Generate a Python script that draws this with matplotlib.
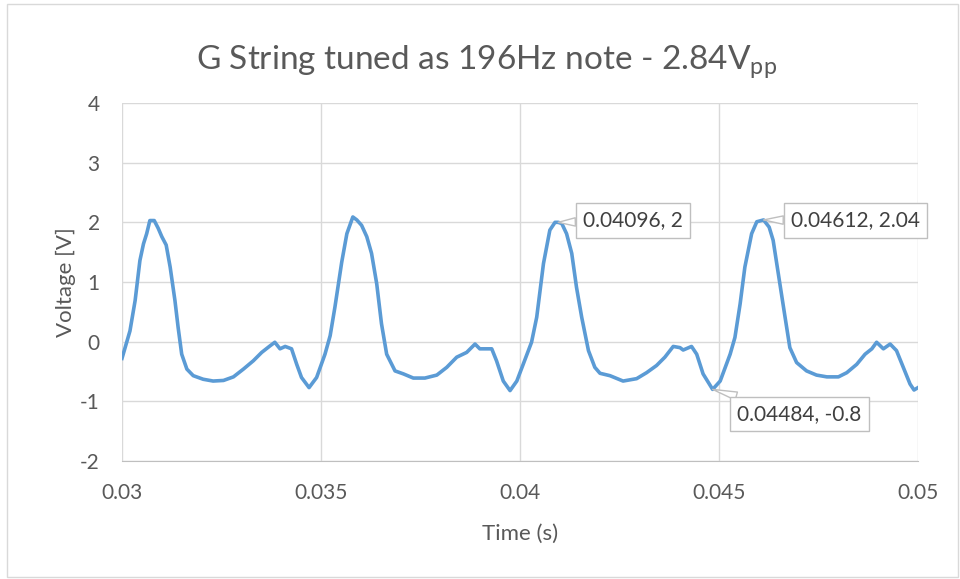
import matplotlib
matplotlib.use("Agg")
import matplotlib.pyplot as plt
from matplotlib.patches import Rectangle

# digitized waveform (time in s, voltage in V)
t = [0.03000, 0.03020, 0.03033, 0.03045, 0.03054, 0.03062, 0.03070, 0.03081,
     0.03091, 0.03100, 0.03111, 0.03121, 0.03133, 0.03141, 0.03150, 0.03163,
     0.03179, 0.03204, 0.03229, 0.03255, 0.03280, 0.03305, 0.03330, 0.03351,
     0.03372, 0.03384, 0.03397, 0.03410, 0.03426, 0.03439, 0.03451, 0.03470,
     0.03489, 0.03510, 0.03523, 0.03535, 0.03552, 0.03565, 0.03580, 0.03590,
     0.03602, 0.03615, 0.03627, 0.03640, 0.03652, 0.03665, 0.03686, 0.03707,
     0.03732, 0.03761, 0.03791, 0.03816, 0.03841, 0.03866, 0.03887, 0.03899,
     0.03929, 0.03941, 0.03958, 0.03975, 0.03992, 0.04008, 0.04029, 0.04042,
     0.04059, 0.04075, 0.04088, 0.04096, 0.04105, 0.04117, 0.04130, 0.04142,
     0.04155, 0.04172, 0.04188, 0.04201, 0.04226, 0.04259, 0.04293, 0.04318,
     0.04343, 0.04364, 0.04385, 0.04402, 0.04410, 0.04431, 0.04444, 0.04460,
     0.04484, 0.04503, 0.04528, 0.04540, 0.04553, 0.04565, 0.04582, 0.04595,
     0.04612, 0.04626, 0.04636, 0.04649, 0.04666, 0.04678, 0.04695, 0.04720,
     0.04745, 0.04771, 0.04800, 0.04821, 0.04846, 0.04867, 0.04884, 0.04896,
     0.04913, 0.04930, 0.04946, 0.04963, 0.04980, 0.04990, 0.05000]
v = [-0.28, 0.18, 0.69, 1.36, 1.64, 1.81, 2.03, 2.03,
     1.90, 1.76, 1.62, 1.25, 0.69, 0.24, -0.21, -0.46,
     -0.57, -0.63, -0.66, -0.65, -0.59, -0.46, -0.32, -0.18,
     -0.07, -0.01, -0.12, -0.08, -0.12, -0.38, -0.60, -0.77,
     -0.60, -0.21, 0.10, 0.58, 1.33, 1.81, 2.09, 2.04,
     1.95, 1.76, 1.48, 0.97, 0.30, -0.21, -0.49, -0.54,
     -0.61, -0.61, -0.56, -0.43, -0.26, -0.18, -0.04, -0.12,
     -0.12, -0.32, -0.66, -0.82, -0.66, -0.38, -0.01, 0.41,
     1.31, 1.87, 2.0, 2.0, 1.98, 1.81, 1.48, 0.91,
     0.41, -0.15, -0.43, -0.53, -0.57, -0.66, -0.62, -0.52,
     -0.40, -0.26, -0.08, -0.10, -0.14, -0.08, -0.21, -0.54,
     -0.80, -0.66, -0.21, 0.07, 0.63, 1.25, 1.81, 2.01,
     2.04, 1.92, 1.70, 1.14, 0.41, -0.10, -0.35, -0.49,
     -0.56, -0.59, -0.59, -0.52, -0.38, -0.21, -0.12, -0.01,
     -0.12, -0.04, -0.15, -0.43, -0.71, -0.81, -0.77]

x_ticks = [0.03, 0.035, 0.04, 0.045, 0.05]
x_labels = ["0.03", "0.035", "0.04", "0.045", "0.05"]
y_ticks = [-2, -1, 0, 1, 2, 3, 4]

# callouts: point, text position
callouts = [((0.04096, 2.0), (0.04284, 2.03), "0.04096, 2"),
            ((0.04612, 2.04), (0.04843, 2.03), "0.04612, 2.04"),
            ((0.04484, -0.8), (0.04702, -1.21), "0.04484, -0.8")]

plt.rcParams['font.family'] = ['Lato', 'DejaVu Sans']
plt.rcParams['axes.unicode_minus'] = False
txt = '#595959'
grid = '#d9d9d9'

fig = plt.figure(figsize=(9.6, 5.79), dpi=100)
fig.patches.append(Rectangle((7 / 960, 2 / 579), 951 / 960, 573 / 579,
                             transform=fig.transFigure, fill=False,
                             ec='#d9d9d9', lw=1))
ax = fig.add_axes([122 / 960, 1 - 461 / 579, 796 / 960, 358 / 579])

ax.plot(t, v, color='#5b9bd5', lw=2.6, zorder=3, solid_joinstyle='round')

ax.set_xlim(0.03, 0.05)
ax.set_ylim(-2, 4)
ax.set_xticks(x_ticks)
ax.set_xticklabels(x_labels)
ax.set_yticks(y_ticks)
ax.grid(True, color=grid, lw=1)
ax.tick_params(length=0, labelsize=15, colors=txt)
ax.tick_params(axis='x', pad=16)
ax.tick_params(axis='y', pad=16)
for s in ['top', 'right', 'left']:
    ax.spines[s].set_visible(False)
ax.spines['bottom'].set_color('#bfbfbf')

ax.set_xlabel('Time (s)', fontsize=16, color=txt, labelpad=15)
ax.set_ylabel('Voltage [V]', fontsize=16, color=txt, labelpad=3)

for pt, pos, label in callouts:
    ax.annotate(label, xy=pt, xytext=pos, ha='center', va='center',
                fontsize=15, color='#404040', zorder=5,
                bbox=dict(boxstyle='square,pad=0.35', fc='white', ec='#bfbfbf', lw=1),
                arrowprops=dict(arrowstyle='wedge,tail_width=0.4', fc='white',
                                ec='#bfbfbf', lw=1, shrinkA=0, shrinkB=0))

fig.text(487 / 960, 1 - 62 / 579, r'G String tuned as 196Hz note - 2.84V$_\mathregular{pp}$',
         ha='center', va='center', fontsize=24, color=txt)

fig.savefig('out.png', dpi=100)
